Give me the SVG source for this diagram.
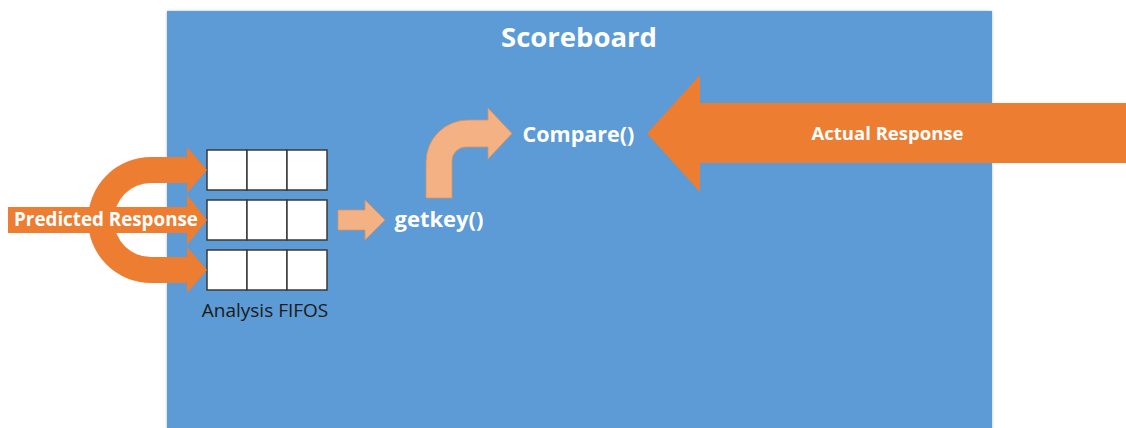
<svg xmlns="http://www.w3.org/2000/svg" width="1126" height="428" viewBox="0 0 1126 428">
  <style>
    .lbl { font-family: "Open Sans", "Liberation Sans", sans-serif; font-weight: bold; fill: #ffffff; }
    .cap { font-family: "Open Sans", "Liberation Sans", sans-serif; fill: #1a1a1a; }
    .cell { fill: #ffffff; stroke: #3a3a3a; stroke-width: 1.5; }
    .dark { fill: #ED7D31; }
    .light { fill: #F4B183; stroke: #D9925E; stroke-width: 0.8; }
  </style>
  <defs>
    <filter id="sh" x="-5%" y="-5%" width="110%" height="110%">
      <feDropShadow dx="0" dy="0" stdDeviation="1.5" flood-color="#000" flood-opacity="0.25"/>
    </filter>
  </defs>
  <rect width="1126" height="428" fill="#ffffff"/>

  <g id="scoreboard">
    <rect x="167" y="11" width="825" height="430" fill="#5B9BD5" filter="url(#sh)"/>
    <text class="lbl" x="579" y="47" font-size="27.5" text-anchor="middle">Scoreboard</text>
  </g>

  <g id="analysis-fifos">
    <rect class="cell" x="207" y="150" width="40" height="40"/>
    <rect class="cell" x="247" y="150" width="40" height="40"/>
    <rect class="cell" x="287" y="150" width="40" height="40"/>
    <rect class="cell" x="207" y="200" width="40" height="40"/>
    <rect class="cell" x="247" y="200" width="40" height="40"/>
    <rect class="cell" x="287" y="200" width="40" height="40"/>
    <rect class="cell" x="207" y="250" width="40" height="40"/>
    <rect class="cell" x="247" y="250" width="40" height="40"/>
    <rect class="cell" x="287" y="250" width="40" height="40"/>
    <text class="cap" x="265" y="317" font-size="19" text-anchor="middle">Analysis FIFOS</text>
  </g>

  <g id="getkey">
    <text class="lbl" x="439" y="227" font-size="22" text-anchor="middle">getkey()</text>
  </g>

  <g id="compare">
    <text class="lbl" x="578.5" y="142" font-size="21.5" text-anchor="middle">Compare()</text>
  </g>

  <g id="connectors">
    <g id="predicted-response">
      <path class="dark" d="M 187 157 L 151 157 A 63 63 0 0 0 151 283 L 187 283 L 187 293 L 207 270 L 187 247 L 187 257 L 151 257 A 37 37 0 0 1 151 183 L 187 183 L 187 193 L 207 170 L 187 147 Z"/>
      <path class="dark" d="M 8 207 L 187 207 L 187 195 L 207 220 L 187 245 L 187 233 L 8 233 Z"/>
      <text class="lbl" x="106" y="226" font-size="18.8" text-anchor="middle">Predicted Response</text>
    </g>
    <path id="fifo-to-getkey" class="light" d="M 338 210 L 365 210 L 365 200 L 385 220 L 365 240 L 365 230 L 338 230 Z"/>
    <path id="getkey-to-compare" class="light" d="M 426 198 L 426 162 A 42 42 0 0 1 468 120 L 488 120 L 488 108 L 512 133.5 L 488 159 L 488 147 L 466 147 A 14 14 0 0 0 452 161 L 452 198 Z"/>
    <g id="actual-response">
      <path class="dark" d="M 1126 103 L 700 103 L 700 75 L 647 133.5 L 700 192 L 700 163 L 1126 163 Z"/>
      <text class="lbl" x="887.5" y="140" font-size="18.5" text-anchor="middle">Actual Response</text>
    </g>
  </g>
</svg>
